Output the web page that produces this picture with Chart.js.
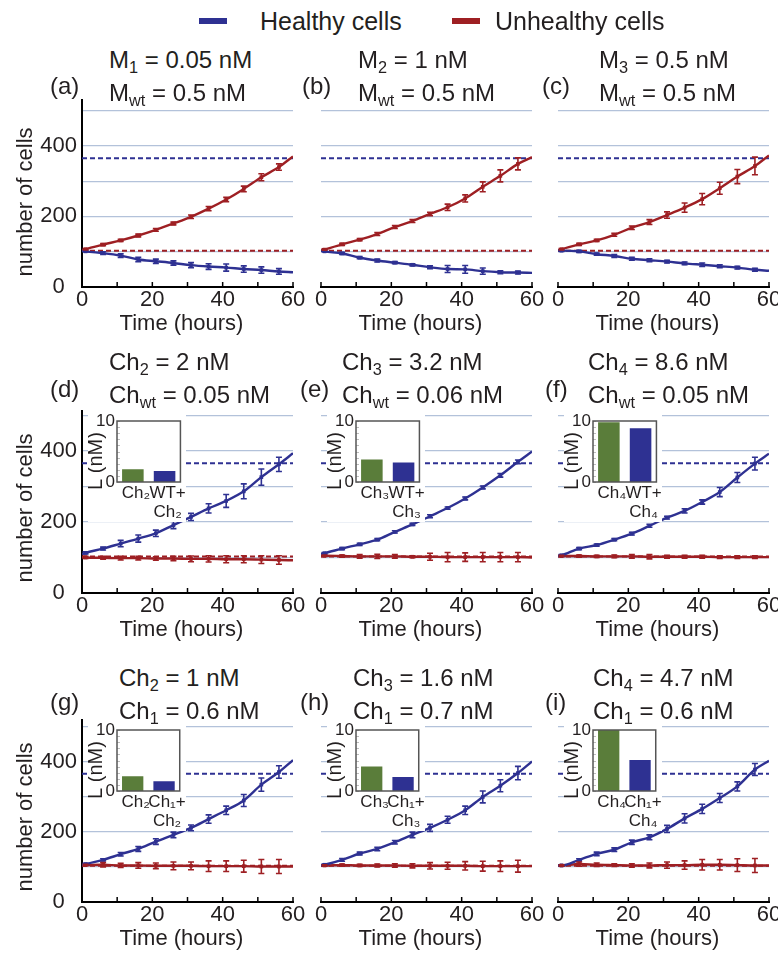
<!DOCTYPE html>
<html>
<head>
<meta charset="utf-8">
<title>Healthy vs unhealthy cells</title>
<script src="https://cdn.jsdelivr.net/npm/chart.js@4.4.1/dist/chart.umd.min.js"></script>
<style>
  html, body { margin: 0; padding: 0; background: #fff; }
  #fig { position: relative; width: 778px; height: 953px; overflow: hidden;
         font-family: "Liberation Sans", Arial, Helvetica, sans-serif; color: #231f20; }
  #fig canvas { position: absolute; }
  .t { position: absolute; white-space: nowrap; font-size: 24px; line-height: 24px; transform: translateY(-50%); }
  .t sub { font-size: 0.68em; line-height: 0; vertical-align: -0.3em; }
  .ax { font-size: 22px; line-height: 22px; transform: translate(-50%, -50%); }
  .ylab { font-size: 22px; line-height: 22px; transform: translate(-50%, -50%) rotate(-90deg); }
  .leg { font-size: 25px; line-height: 25px; }
  .legbar { position: absolute; width: 28px; height: 6px; }
</style>
</head>
<body>
<div id="fig"></div>
<script>
// ─── DATA ───────────────────────────────────────────────────────
const markerHours = [1, 6, 11, 16, 21, 26, 31, 36, 41, 46, 51, 56];
const xMax = 60;
const healthyLevel = 365;      // blue dashed reference
const unhealthyLevel = 103;    // red dashed reference
const legendLabels = ['Healthy cells', 'Unhealthy cells'];
const panelLetters = ['(a)', '(b)', '(c)', '(d)', '(e)', '(f)', '(g)', '(h)', '(i)'];
const titleLine1 = ['M<sub>1</sub> = 0.05 nM', 'M<sub>2</sub> = 1 nM', 'M<sub>3</sub> = 0.5 nM',
                    'Ch<sub>2</sub> = 2 nM', 'Ch<sub>3</sub> = 3.2 nM', 'Ch<sub>4</sub> = 8.6 nM',
                    'Ch<sub>2</sub> = 1 nM', 'Ch<sub>3</sub> = 1.6 nM', 'Ch<sub>4</sub> = 4.7 nM'];
const titleLine2 = ['M<sub>wt</sub> = 0.5 nM', 'M<sub>wt</sub> = 0.5 nM', 'M<sub>wt</sub> = 0.5 nM',
                    'Ch<sub>wt</sub> = 0.05 nM', 'Ch<sub>wt</sub> = 0.06 nM', 'Ch<sub>wt</sub> = 0.05 nM',
                    'Ch<sub>1</sub> = 0.6 nM', 'Ch<sub>1</sub> = 0.7 nM', 'Ch<sub>1</sub> = 0.6 nM'];

// (a)
const healthyA       = [101, 96, 89, 78, 73, 68, 62, 58, 55, 51, 48, 44];
const healthyErrA    = [2, 4, 5, 6, 6, 6, 7, 8, 10, 9, 9, 8];
const healthyEndsA   = [103, 42];
const unhealthyA     = [107, 120, 132, 146, 162, 180, 199, 222, 248, 278, 311, 340];
const unhealthyErrA  = [2, 3, 3, 4, 4, 4, 5, 6, 6, 8, 10, 9];
const unhealthyEndsA = [103, 370];
// (b)
const healthyB       = [101, 95, 83, 75, 69, 63, 56, 51, 50, 45, 42, 41];
const healthyErrB    = [2, 3, 3, 4, 3, 3, 4, 10, 11, 9, 4, 4];
const healthyEndsB   = [103, 40];
const unhealthyB     = [106, 121, 134, 150, 170, 187, 207, 226, 251, 284, 315, 349];
const unhealthyErrB  = [2, 3, 3, 4, 4, 4, 5, 9, 10, 14, 17, 17];
const unhealthyEndsB = [103, 368];
// (c)
const healthyC       = [103, 101, 93, 88, 80, 76, 72, 67, 63, 59, 55, 49];
const healthyErrC    = [2, 3, 3, 4, 4, 4, 4, 4, 5, 4, 4, 4];
const healthyEndsC   = [103, 46];
const unhealthyC     = [107, 121, 132, 148, 168, 184, 204, 225, 249, 280, 313, 343];
const unhealthyErrC  = [2, 3, 3, 4, 5, 7, 9, 13, 16, 17, 20, 25];
const unhealthyEndsC = [103, 373];
// (d)
const healthyD       = [113, 125, 139, 153, 168, 191, 214, 238, 259, 286, 326, 362];
const healthyErrD    = [3, 4, 9, 10, 9, 10, 10, 13, 18, 21, 23, 20];
const healthyEndsD   = [110, 393];
const unhealthyD     = [100, 99, 98, 98, 97, 97, 96, 96, 95, 95, 94, 93];
const unhealthyErrD  = [3, 4, 5, 5, 5, 6, 8, 9, 10, 10, 11, 12];
const unhealthyEndsD = [101, 92];
// (e)
const healthyE       = [112, 125, 137, 150, 172, 193, 216, 239, 266, 297, 331, 369];
const healthyErrE    = [2, 3, 3, 3, 3, 3, 4, 3, 4, 4, 5, 5];
const healthyEndsE   = [110, 398];
const unhealthyE     = [105, 104, 103, 103, 103, 102, 102, 101, 101, 101, 101, 101];
const unhealthyErrE  = [2, 3, 5, 6, 5, 3, 10, 13, 12, 13, 13, 13];
const unhealthyEndsE = [104, 100];
// (f)
const healthyF       = [106, 125, 135, 150, 167, 189, 212, 231, 256, 284, 325, 364];
const healthyErrF    = [2, 3, 3, 3, 4, 4, 4, 6, 6, 13, 14, 18];
const healthyEndsF   = [104, 392];
const unhealthyF     = [104, 104, 103, 103, 103, 102, 102, 102, 102, 101, 101, 101];
const unhealthyErrF  = [2, 3, 3, 4, 5, 6, 4, 4, 4, 4, 4, 4];
const unhealthyEndsF = [104, 101];
// (g)
const healthyG       = [108, 120, 136, 151, 172, 191, 211, 236, 261, 289, 334, 370];
const healthyErrG    = [2, 3, 5, 7, 8, 8, 8, 12, 12, 17, 19, 18];
const healthyEndsG   = [105, 404];
const unhealthyG     = [105, 106, 104, 104, 103, 103, 103, 102, 102, 102, 101, 101];
const unhealthyErrG  = [2, 6, 6, 8, 8, 11, 11, 15, 15, 17, 20, 20];
const unhealthyEndsG = [104, 101];
// (h)
const healthyH       = [106, 120, 138, 151, 170, 191, 211, 234, 261, 299, 331, 367];
const healthyErrH    = [2, 4, 4, 5, 5, 8, 10, 10, 12, 17, 17, 19];
const healthyEndsH   = [104, 400];
const unhealthyH     = [104, 105, 104, 104, 104, 103, 103, 103, 103, 102, 102, 102];
const unhealthyErrH  = [2, 3, 3, 4, 5, 6, 9, 10, 12, 14, 15, 17];
const unhealthyEndsH = [104, 102];
// (i)
const healthyI       = [104, 120, 137, 149, 170, 184, 208, 238, 265, 296, 329, 377];
const healthyErrI    = [2, 3, 5, 5, 6, 7, 10, 13, 13, 13, 13, 17];
const healthyEndsI   = [104, 402];
const unhealthyI     = [104, 108, 106, 105, 104, 104, 105, 105, 106, 106, 105, 104];
const unhealthyErrI  = [2, 6, 5, 4, 5, 7, 9, 12, 15, 15, 18, 20];
const unhealthyEndsI = [104, 104];

// inset bar charts, L (nM)
const insetLabelsD = ['Ch₂', ['WT+', 'Ch₂']];
const insetValuesD = [2.1, 1.8];
const insetLabelsE = ['Ch₃', ['WT+', 'Ch₃']];
const insetValuesE = [3.7, 3.2];
const insetLabelsF = ['Ch₄', ['WT+', 'Ch₄']];
const insetValuesF = [9.8, 8.8];
const insetLabelsG = ['Ch₂', ['Ch₁+', 'Ch₂']];
const insetValuesG = [2.4, 1.6];
const insetLabelsH = ['Ch₃', ['Ch₁+', 'Ch₃']];
const insetValuesH = [4.0, 2.3];
const insetLabelsI = ['Ch₄', ['Ch₁+', 'Ch₄']];
const insetValuesI = [10, 5.1];

// ─── LAYOUT & STYLE ─────────────────────────────────────────────
const BLUE = '#2e3192', RED = '#9e1f23', GREEN = '#5a7d3a', GRID = '#b3c2da', TEXT = '#231f20';
const FONT = '"Liberation Sans", Arial, Helvetica, sans-serif';
const COL_X0 = [82, 321, 558];
const PLOT_W = 211;
const ROW_Y0 = [286.5, 593, 902];
const ROW_PX = [0.351, 0.3557, 0.351];
const ROW_YMAX = [530, 512, 518];
const TITLE_Y = [93, 395, 711];      // centre of the second title line
const TITLE_GAP = 33;
const LETTER_Y = [86, 389, 702];
const TITLE_X = [[109, 358, 599], [109, 342, 588], [119, 353, 593]];
const LETTER_X = [[50, 302, 542], [50, 300, 545], [50, 300, 545]];

Chart.defaults.font.family = FONT;
Chart.defaults.color = TEXT;

const fig = document.getElementById('fig');

const panels = [
  [healthyA, healthyErrA, healthyEndsA, unhealthyA, unhealthyErrA, unhealthyEndsA],
  [healthyB, healthyErrB, healthyEndsB, unhealthyB, unhealthyErrB, unhealthyEndsB],
  [healthyC, healthyErrC, healthyEndsC, unhealthyC, unhealthyErrC, unhealthyEndsC],
  [healthyD, healthyErrD, healthyEndsD, unhealthyD, unhealthyErrD, unhealthyEndsD],
  [healthyE, healthyErrE, healthyEndsE, unhealthyE, unhealthyErrE, unhealthyEndsE],
  [healthyF, healthyErrF, healthyEndsF, unhealthyF, unhealthyErrF, unhealthyEndsF],
  [healthyG, healthyErrG, healthyEndsG, unhealthyG, unhealthyErrG, unhealthyEndsG],
  [healthyH, healthyErrH, healthyEndsH, unhealthyH, unhealthyErrH, unhealthyEndsH],
  [healthyI, healthyErrI, healthyEndsI, unhealthyI, unhealthyErrI, unhealthyEndsI],
];
const insets = [null, null, null,
  [insetLabelsD, insetValuesD], [insetLabelsE, insetValuesE], [insetLabelsF, insetValuesF],
  [insetLabelsG, insetValuesG], [insetLabelsH, insetValuesH], [insetLabelsI, insetValuesI]];

// ─── PLUGINS ────────────────────────────────────────────────────
// vertical error bars with caps, for datasets carrying an `errors` array
const errorBars = {
  id: 'errorBars',
  afterDatasetsDraw(chart) {
    const { ctx, scales: { y } } = chart;
    chart.data.datasets.forEach((ds, i) => {
      if (!ds.errors) return;
      const meta = chart.getDatasetMeta(i);
      ctx.save();
      ctx.strokeStyle = ds.pointBackgroundColor;
      ctx.lineWidth = 1.6;
      meta.data.forEach((pt, j) => {
        const v = ds.data[j].y, e = ds.errors[j];
        const yt = y.getPixelForValue(v + e), yb = y.getPixelForValue(v - e);
        ctx.beginPath();
        ctx.moveTo(pt.x, yt); ctx.lineTo(pt.x, yb);
        ctx.moveTo(pt.x - 3, yt); ctx.lineTo(pt.x + 3, yt);
        ctx.moveTo(pt.x - 3, yb); ctx.lineTo(pt.x + 3, yb);
        ctx.stroke();
      });
      ctx.restore();
    });
  }
};

// short tick marks pointing up into the plot from the time axis
const inwardTicks = {
  id: 'inwardTicks',
  beforeDatasetsDraw(chart) {
    const { ctx, chartArea, scales: { x } } = chart;
    ctx.save();
    ctx.strokeStyle = '#000';
    ctx.lineWidth = 1.5;
    x.ticks.forEach(t => {
      const px = x.getPixelForValue(t.value);
      ctx.beginPath();
      ctx.moveTo(px, chartArea.bottom);
      ctx.lineTo(px, chartArea.bottom - 5);
      ctx.stroke();
    });
    ctx.restore();
  }
};

// white backing + grey frame and small inner ticks for the insets
const insetFrame = {
  id: 'insetFrame',
  beforeDraw(chart) {
    const { ctx, width, height } = chart;
    ctx.save();
    ctx.fillStyle = '#fff';
    ctx.fillRect(0, 0, width, height);
    ctx.restore();
  },
  afterDraw(chart) {
    const { ctx, chartArea: a, scales: { y } } = chart;
    ctx.save();
    ctx.strokeStyle = '#bdbdbd';
    ctx.lineWidth = 1;
    y.ticks.forEach(t => {
      const py = Math.round(y.getPixelForValue(t.value)) + 0.5;
      ctx.beginPath(); ctx.moveTo(a.left, py); ctx.lineTo(a.left + 3, py); ctx.stroke();
    });
    ctx.strokeStyle = '#555';
    ctx.lineWidth = 1.5;
    ctx.strokeRect(a.left, a.top, a.right - a.left, a.bottom - a.top);
    ctx.restore();
  }
};

// ─── HELPERS ────────────────────────────────────────────────────
function addCanvas(left, top, w, h) {
  const cv = document.createElement('canvas');
  cv.width = w; cv.height = h;
  cv.style.left = left + 'px'; cv.style.top = top + 'px';
  cv.style.width = w + 'px'; cv.style.height = h + 'px';
  fig.appendChild(cv);
  return cv;
}

function addText(html, x, y, cls) {
  const d = document.createElement('div');
  d.className = 't ' + (cls || '');
  d.innerHTML = html;
  d.style.left = x + 'px';
  d.style.top = y + 'px';
  fig.appendChild(d);
  return d;
}

// tick label only on whole multiples of `step`
function everyNth(step) {
  return v => {
    const r = Math.round(v);
    return Math.abs(v - r) < 1e-6 && r % step === 0 ? r : '';
  };
}

function curvePoints(values, ends) {
  return [{ x: 0, y: ends[0] }]
    .concat(markerHours.map((t, i) => ({ x: t, y: values[i] })))
    .concat([{ x: xMax, y: ends[1] }]);
}

function markerDataset(values, errors, color) {
  return {
    data: markerHours.map((t, i) => ({ x: t, y: values[i] })),
    errors: errors,
    showLine: false,
    pointStyle: 'rect',
    pointRadius: 2.6,
    pointBorderWidth: 0,
    pointBackgroundColor: color,
  };
}

function curveDataset(values, ends, color) {
  return {
    data: curvePoints(values, ends),
    borderColor: color,
    borderWidth: 2.4,
    pointRadius: 0,
    cubicInterpolationMode: 'monotone',
  };
}

function refDataset(level, color) {
  return {
    data: [{ x: 0, y: level }, { x: xMax, y: level }],
    borderColor: color,
    borderWidth: 2,
    borderDash: [5, 3],
    pointRadius: 0,
  };
}

// ─── PANELS ─────────────────────────────────────────────────────
function buildPanel(idx) {
  const row = Math.floor(idx / 3), col = idx % 3;
  const [healthy, healthyErr, healthyEnds, unhealthy, unhealthyErr, unhealthyEnds] = panels[idx];
  const x0 = COL_X0[col];
  const plotBot = Math.round(ROW_Y0[row]);
  const plotTop = Math.round(ROW_Y0[row] - ROW_YMAX[row] * ROW_PX[row]);
  const cvLeft = col === 0 ? 0 : x0 - 30;
  const yAxisW = x0 - cvLeft;
  const padTop = 22, padRight = 16, xAxisH = 46;
  const cv = addCanvas(cvLeft, plotTop - padTop, yAxisW + PLOT_W + padRight,
                       padTop + (plotBot - plotTop) + xAxisH);

  new Chart(cv, {
    type: 'line',
    data: {
      datasets: [
        markerDataset(healthy, healthyErr, BLUE),
        markerDataset(unhealthy, unhealthyErr, RED),
        curveDataset(healthy, healthyEnds, BLUE),
        curveDataset(unhealthy, unhealthyEnds, RED),
        refDataset(healthyLevel, BLUE),
        refDataset(unhealthyLevel, RED),
      ],
    },
    options: {
      responsive: false,
      animation: false,
      devicePixelRatio: 1,
      events: [],
      layout: { padding: { top: padTop, right: padRight, left: 0, bottom: 0 } },
      plugins: { legend: { display: false }, tooltip: { enabled: false } },
      scales: {
        x: {
          type: 'linear', min: 0, max: xMax,
          ticks: {
            stepSize: 10, autoSkip: false, maxRotation: 0, padding: 0,
            font: { size: 22, lineHeight: 1.2 }, color: TEXT,
            callback: everyNth(20),
          },
          grid: { display: false, drawTicks: false },
          border: { display: true, color: '#000', width: 2 },
          afterFit: s => { s.height = xAxisH; },
        },
        y: {
          min: 0, max: ROW_YMAX[row],
          ticks: {
            stepSize: 100, includeBounds: false, display: col === 0, autoSkip: false,
            crossAlign: 'center', padding: 5,
            font: { size: 22, lineHeight: 1.2 }, color: TEXT,
            callback: everyNth(200),
          },
          grid: {
            drawTicks: false, lineWidth: 1.2,
            color: c => (c.tick && Math.abs(c.tick.value) < 1e-6 ? 'rgba(0,0,0,0)' : GRID),
          },
          border: { display: col === 0, color: '#000', width: 2 },
          afterFit: s => { s.width = yAxisW; },
        },
      },
    },
    plugins: [inwardTicks, errorBars],
  });
}

function buildInset(idx) {
  const row = Math.floor(idx / 3), col = idx % 3;
  const [labels, values] = insets[idx];
  const x0 = COL_X0[col], y0 = ROW_Y0[row];
  const top = Math.round(y0 - 186);
  const boxL = 29, boxT = 14, boxW = 64, boxH = 61, bottomH = 40, padR = 5;
  const cv = addCanvas(x0 + 6, top, boxL + boxW + padR, boxT + boxH + bottomH);

  new Chart(cv, {
    type: 'bar',
    data: {
      labels: labels,
      datasets: [{
        data: values,
        backgroundColor: [GREEN, BLUE],
        barPercentage: 0.68,
        categoryPercentage: 1,
      }],
    },
    options: {
      responsive: false,
      animation: false,
      devicePixelRatio: 1,
      events: [],
      layout: { padding: { top: boxT, right: padR, left: 0, bottom: 0 } },
      plugins: { legend: { display: false }, tooltip: { enabled: false } },
      scales: {
        x: {
          ticks: { autoSkip: false, maxRotation: 0, padding: 2, labelOffset: 3, color: TEXT,
                   font: { size: 17, lineHeight: 1.1 } },
          grid: { display: false, drawTicks: false },
          border: { display: false },
          afterFit: s => { s.height = bottomH; },
        },
        y: {
          min: 0, max: 10,
          ticks: { stepSize: 1, autoSkip: false, padding: 2, color: TEXT,
                   font: { size: 17, lineHeight: 1.1 },
                   callback: v => (v === 0 || v === 10 ? v : '') },
          grid: { display: false, drawTicks: false },
          border: { display: false },
          // trailing spaces push the end-aligned title down past the frame bottom
          title: { display: true, text: 'L (nM)  ', align: 'end', color: TEXT,
                   font: { size: 20, lineHeight: 0.85 }, padding: 0 },
          afterFit: s => { s.width = boxL; },
        },
      },
    },
    plugins: [insetFrame],
  });
}

for (let i = 0; i < 9; i++) buildPanel(i);
for (let i = 3; i < 9; i++) buildInset(i);

// ─── TEXT (on top of every canvas) ──────────────────────────────
for (let idx = 0; idx < 9; idx++) {
  const row = Math.floor(idx / 3), col = idx % 3;
  addText('Time (hours)', COL_X0[col] + PLOT_W / 2 - 6, ROW_Y0[row] + 36, 'ax');
  if (col === 0) addText('number of cells', 25, ROW_Y0[row] - 85, 'ylab');
  addText(titleLine1[idx], TITLE_X[row][col], TITLE_Y[row] - TITLE_GAP);
  addText(titleLine2[idx], TITLE_X[row][col], TITLE_Y[row]);
  addText(panelLetters[idx], LETTER_X[row][col], LETTER_Y[row]);
}

// ─── LEGEND ─────────────────────────────────────────────────────
[[BLUE, 199, 260], [RED, 452, 495]].forEach(([color, barX, textX], i) => {
  const bar = document.createElement('div');
  bar.className = 'legbar';
  bar.style.background = color;
  bar.style.left = barX + 'px';
  bar.style.top = '18px';
  fig.appendChild(bar);
  addText(legendLabels[i], textX, 21, 'leg');
});
</script>
</body>
</html>
